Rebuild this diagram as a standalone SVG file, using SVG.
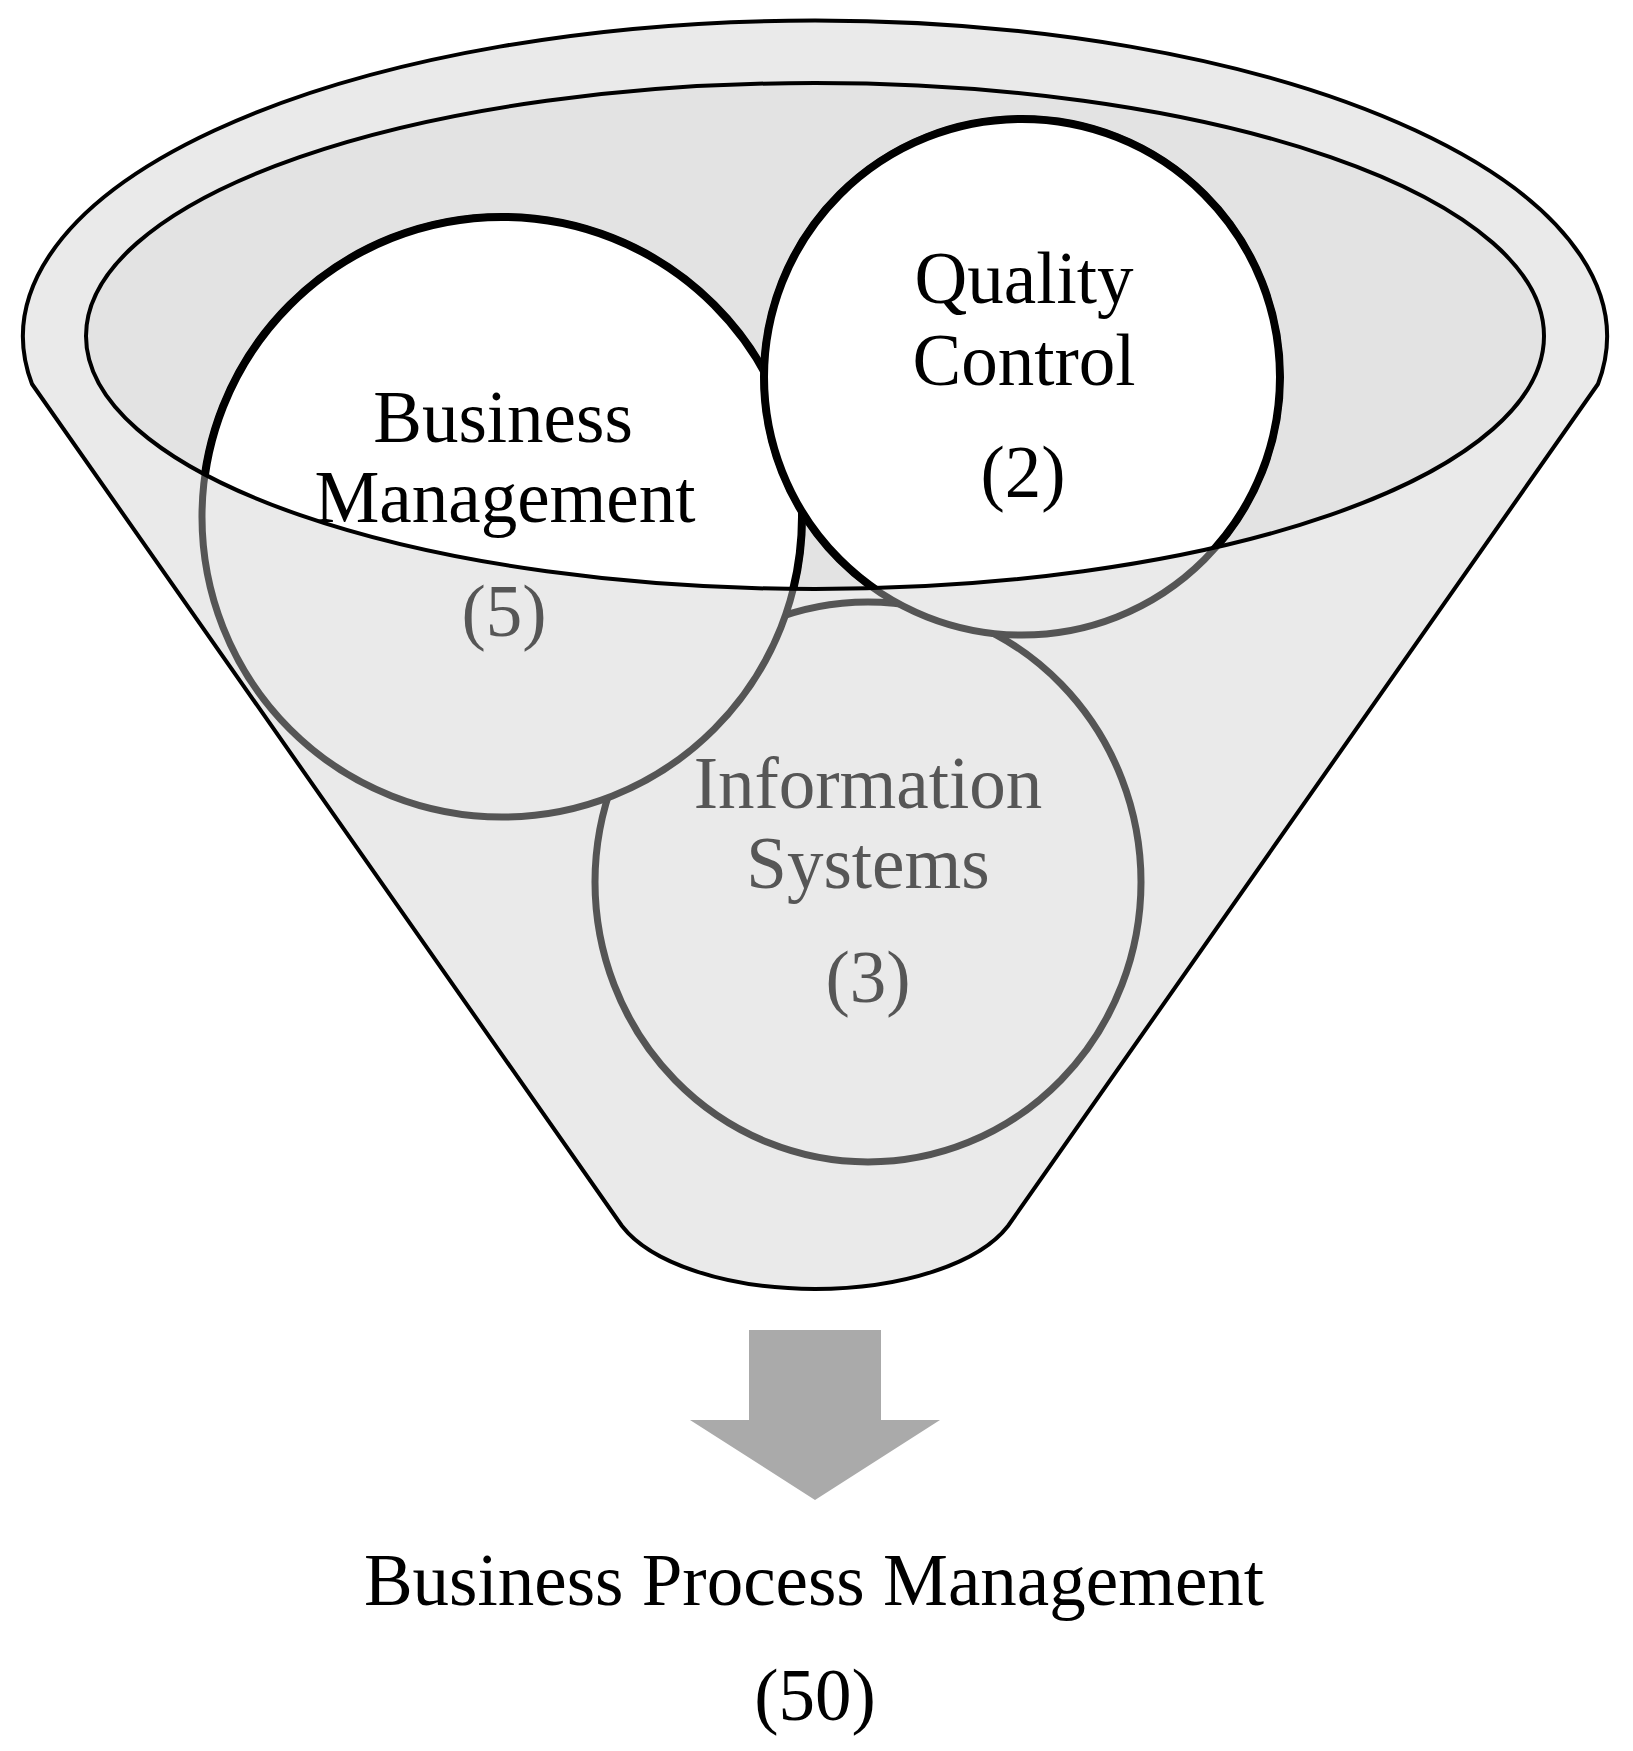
<svg xmlns="http://www.w3.org/2000/svg" width="1633" height="1751" viewBox="0 0 1633 1751">
  <style>
    .lbl { font-family: "Liberation Serif", "Times New Roman", serif; font-size: 73px; text-anchor: middle; }
    .blk { fill: #000000; }
    .gry { fill: #565656; }
    .circGray { fill: #eaeaea; stroke: #555555; stroke-width: 7; }
    .circTop { fill: #ffffff; stroke: #000000; stroke-width: 8; }
  </style>
  <defs>
    <clipPath id="innerClip">
      <ellipse cx="815" cy="336" rx="729" ry="253"/>
    </clipPath>
  </defs>
  <rect x="0" y="0" width="1633" height="1751" fill="#ffffff"/>

  <g id="funnel">
    <path d="M 32,384 A 792 316 0 1 1 1598,384 L 1008,1226 A 205 95 0 0 1 622,1226 Z" fill="#eaeaea" stroke="#000000" stroke-width="4" stroke-linejoin="round"/>
    <ellipse id="funnel-inner" cx="815" cy="336" rx="729" ry="253" fill="#e3e3e3"/>
  </g>

  <g id="information-systems">
    <ellipse cx="868" cy="882" rx="273" ry="280" class="circGray"/>
  </g>

  <g id="business-management">
    <circle cx="502" cy="517" r="300" class="circGray"/>
    <circle cx="502" cy="517" r="300" class="circTop" clip-path="url(#innerClip)"/>
  </g>

  <g id="quality-control">
    <circle cx="1022" cy="377" r="258" class="circGray"/>
    <circle cx="1022" cy="377" r="258" class="circTop" clip-path="url(#innerClip)"/>
  </g>

  <g id="funnel-rim">
    <ellipse cx="815" cy="336" rx="729" ry="253" fill="none" stroke="#000000" stroke-width="4"/>
  </g>

  <g id="labels">
    <text class="lbl blk" x="1024" y="303">Quality</text>
    <text class="lbl blk" x="1024" y="385">Control</text>
    <text class="lbl blk" x="1023" y="497">(2)</text>
    <text class="lbl blk" x="503" y="442">Business</text>
    <text class="lbl blk" x="505" y="522">Management</text>
    <text class="lbl gry" x="504" y="636">(5)</text>
    <text class="lbl gry" x="868" y="808">Information</text>
    <text class="lbl gry" x="868" y="888">Systems</text>
    <text class="lbl gry" x="868" y="1002">(3)</text>
  </g>

  <g id="connectors">
    <polygon points="749,1330 881,1330 881,1420 940,1420 815,1500 690,1420 749,1420" fill="#aaaaaa"/>
  </g>

  <g id="business-process-management">
    <text class="lbl blk" x="814" y="1605">Business Process Management</text>
    <text class="lbl blk" x="815" y="1720">(50)</text>
  </g>
</svg>
